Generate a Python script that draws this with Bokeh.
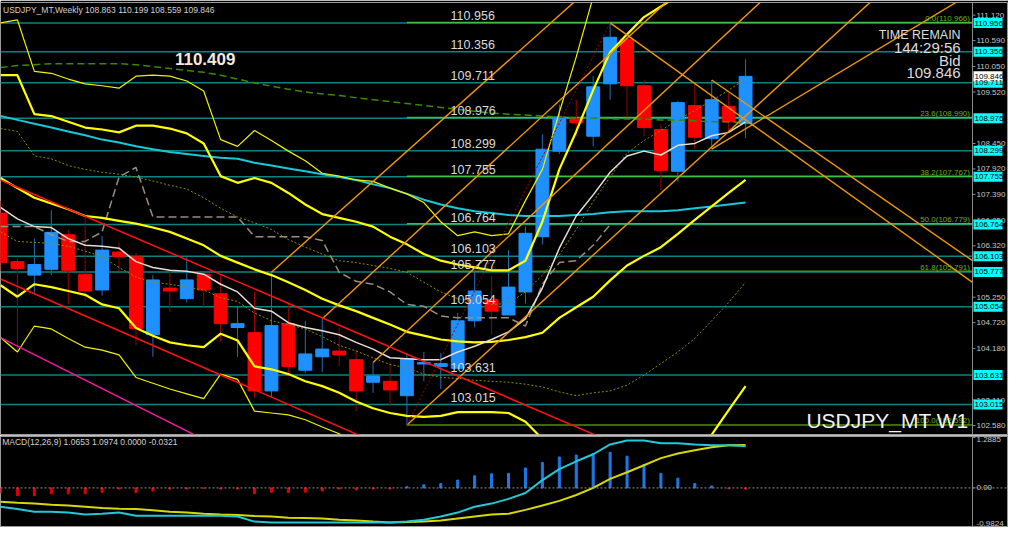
from bokeh.plotting import figure
from bokeh.layouts import column
from bokeh.models import ColumnDataSource, Span, Range1d
from bokeh.core.properties import value
from bokeh.embed import file_html
from bokeh.resources import INLINE

# ---------------- data ----------------
bars = list(range(45))
opens = [107.00, 105.99, 105.71, 105.83, 106.55, 105.73, 105.40, 106.19, 106.09, 104.47,
         105.44, 105.22, 105.73, 105.32, 104.62, 104.51, 103.30, 104.70, 103.73, 104.01,
         104.13, 103.95, 103.48, 103.50, 103.20, 103.86, 103.81, 103.77, 104.76, 105.20,
         104.88, 105.36, 106.51, 108.29, 108.96, 108.60, 109.69, 110.62, 109.65, 108.74,
         107.87, 109.24, 108.55, 109.22, 108.863]
highs = [107.25, 106.05, 106.47, 107.06, 106.66, 106.94, 106.53, 106.39, 106.17, 105.71,
         105.83, 106.11, 105.77, 105.73, 105.06, 105.36, 105.77, 105.12, 104.76, 104.80,
         104.62, 104.15, 103.89, 103.89, 104.09, 104.11, 104.09, 104.92, 105.79, 105.69,
         106.23, 106.72, 108.64, 109.26, 109.36, 109.85, 110.96, 110.68, 109.77, 108.84,
         109.34, 109.69, 109.77, 109.50, 110.199]
lows = [105.80, 104.11, 105.34, 105.71, 105.10, 105.18, 105.28, 105.79, 104.25, 104.01,
        104.94, 105.14, 105.02, 104.33, 104.01, 103.16, 103.18, 103.67, 103.67, 103.69,
        103.81, 102.88, 103.26, 102.98, 102.59, 103.50, 103.34, 103.75, 104.62, 104.47,
        104.88, 105.12, 106.35, 108.23, 108.60, 108.39, 109.36, 109.00, 108.60, 107.48,
        107.65, 108.33, 108.33, 108.70, 108.559]
closes = [105.97, 105.85, 105.93, 106.60, 105.81, 105.38, 106.23, 106.09, 104.60, 105.61,
          105.38, 105.61, 105.40, 104.70, 104.70, 103.30, 104.66, 103.81, 104.07, 104.17,
          104.05, 103.30, 103.61, 103.32, 103.97, 103.89, 103.87, 104.76, 105.38, 104.96,
          105.46, 106.58, 108.33, 109.00, 108.88, 109.63, 110.66, 109.65, 108.78, 107.89,
          109.30, 108.58, 109.36, 108.90, 109.846]

bb_up3 = [110.96, 111.02, 109.95, 109.91, 109.79, 109.69, 109.65, 109.60, 109.85, 109.87,
          109.85, 109.75, 109.54, 108.53, 108.39, 108.72, 108.51, 108.29, 108.09, 107.83,
          107.77, 107.69, 107.66, 107.52, 107.40, 107.22, 106.82, 106.53, 106.61, 106.53,
          106.57, 107.26, 107.91, 109.10, 110.25, 111.50, 112.73, 113.13, 113.57, 113.80,
          113.99, 114.13, 114.27, 114.20, 114.13]
bb_up2 = [109.87, 109.87, 109.06, 109.02, 108.90, 108.78, 108.74, 108.68, 108.82, 108.82,
          108.76, 108.66, 108.45, 107.77, 107.63, 107.73, 107.63, 107.42, 107.18, 106.98,
          106.90, 106.82, 106.72, 106.51, 106.35, 106.15, 106.01, 105.93, 105.87, 105.81,
          105.81, 106.01, 106.82, 107.91, 108.70, 109.56, 110.35, 110.72, 111.08, 111.30,
          111.52, 111.71, 111.89, 111.94, 111.98]
bb_mid = [107.73, 107.52, 107.32, 107.20, 107.08, 106.94, 106.90, 106.84, 106.78, 106.70,
          106.61, 106.47, 106.33, 106.11, 105.97, 105.83, 105.71, 105.56, 105.40, 105.22,
          105.08, 104.96, 104.82, 104.68, 104.53, 104.45, 104.37, 104.33, 104.31, 104.32,
          104.36, 104.42, 104.51, 104.82, 105.04, 105.26, 105.60, 105.91, 106.11, 106.29,
          106.57, 106.86, 107.14, 107.42, 107.69]
bb_lo2 = [105.50, 105.26, 105.52, 105.46, 105.38, 105.30, 105.10, 105.02, 104.61, 104.45,
          104.31, 104.25, 104.21, 104.49, 104.35, 103.81, 103.75, 103.65, 103.50, 103.40,
          103.26, 103.08, 102.94, 102.84, 102.78, 102.76, 102.78, 102.86, 102.86, 102.86,
          102.84, 102.66, 102.30, 101.97, 101.58, 101.00, 100.85, 101.10, 101.14, 101.28,
          101.62, 102.01, 102.39, 102.90, 103.40]
bb_lo3 = [104.41, 104.11, 104.65, 104.59, 104.39, 104.21, 104.15, 104.05, 103.58, 103.46,
          103.34, 103.24, 103.14, 103.65, 103.54, 102.88, 102.84, 102.80, 102.70, 102.55,
          102.41, 102.23, 101.98, 101.84, 101.74, 101.76, 102.04, 102.25, 102.13, 102.17,
          102.21, 101.72, 101.49, 100.49, 99.80, 98.86, 98.48, 98.70, 98.66, 98.78,
          99.15, 99.59, 100.02, 100.64, 101.25]
ma_fast = [107.12, 106.88, 106.72, 106.70, 106.47, 106.33, 106.31, 106.27, 105.99, 105.87,
           105.81, 105.79, 105.73, 105.52, 105.36, 105.02, 104.96, 104.72, 104.62, 104.55,
           104.47, 104.31, 104.17, 103.99, 103.97, 103.95, 103.95, 104.11, 104.23, 104.37,
           104.53, 104.80, 105.44, 106.27, 106.94, 107.38, 107.85, 108.19, 108.29, 108.21,
           108.41, 108.45, 108.61, 108.68, 108.90]
ma_slow = [109.02, 108.94, 108.86, 108.78, 108.70, 108.62, 108.53, 108.47, 108.39, 108.33,
           108.27, 108.23, 108.19, 108.15, 108.13, 108.05, 107.99, 107.93, 107.87, 107.81,
           107.75, 107.69, 107.60, 107.52, 107.40, 107.28, 107.18, 107.10, 107.04, 107.00,
           106.96, 106.94, 106.94, 106.94, 106.96, 106.98, 107.02, 107.04, 107.04, 107.04,
           107.06, 107.10, 107.14, 107.18, 107.22]
ma_long = [110.03, 110.07, 110.09, 110.11, 110.11, 110.11, 110.11, 110.11, 110.09, 110.05,
           110.01, 109.97, 109.93, 109.87, 109.79, 109.71, 109.64, 109.58, 109.52, 109.48,
           109.45, 109.40, 109.36, 109.32, 109.28, 109.24, 109.20, 109.16, 109.12, 109.08,
           109.06, 109.04, 109.02, 109.00, 108.98, 108.98, 108.96, 108.96, 108.96, 108.94,
           108.94, 108.92, 108.90, 108.90, 108.88]
dot_upper = [108.76, 108.70, 108.19, 108.13, 107.99, 107.91, 107.85, 107.81, 107.75, 107.67,
             107.58, 107.50, 107.32, 107.10, 106.92, 106.80, 106.66, 106.45, 106.29, 106.15,
             106.01, 105.97, 105.91, 105.85, 105.77, 105.56, 105.36, 105.22, 105.16, 105.10,
             105.12, 105.36, 105.71, 106.13, 106.66, 107.24, 107.75, 108.25, 108.51, 108.72,
             108.94, 109.14, 109.34, 109.56, 109.79]
dot_lower = [106.61, 106.41, 106.39, 106.37, 106.31, 106.21, 106.09, 105.87, 105.67, 105.56,
             105.52, 105.46, 105.40, 105.24, 105.16, 104.92, 104.76, 104.68, 104.59, 104.43,
             104.25, 104.13, 103.99, 103.85, 103.78, 103.65, 103.58, 103.56, 103.52, 103.50,
             103.48, 103.44, 103.38, 103.28, 103.20, 103.26, 103.30, 103.42, 103.63, 103.87,
             104.11, 104.39, 104.76, 105.14, 105.56]
lag_line = [106.72, 106.72, 106.72, 106.55, 106.41, 106.41, 106.61, 107.75, 107.95, 106.92,
            106.92, 106.92, 106.92, 106.92, 106.92, 106.51, 106.51, 106.51, 106.51, 106.43,
            105.77, 105.58, 105.52, 105.36, 105.10, 105.06, 104.86, 104.82, 104.82, 104.82,
            104.82, 104.65, 105.52, 105.97, 106.01, 106.33, 106.76]

# horizontal levels (with labels)
levels = [110.956, 110.356, 109.711, 108.976, 108.299, 107.755, 106.764, 106.103,
          105.777, 105.054, 103.631, 103.015]
fib_pct = ["0.0", "23.6", "38.2", "50.0", "61.8", "100.0"]
fib_price = [110.966, 108.990, 107.767, 106.779, 105.791, 102.592]
fib_start_bar = 24
bid_price = 109.846
price_ticks = [111.120, 110.590, 110.050, 109.520, 108.450, 107.920, 107.390, 106.850,
               106.320, 105.250, 104.720, 104.180, 103.110, 102.580]

# trend lines: (bar0, price0) -> (bar1, price1)
orange_b0 = [16, 19, 22, 24, 42, 36, 42]
orange_p0 = [105.77, 104.80, 103.89, 102.59, 108.33, 110.96, 109.77]
orange_b1 = [33.9, 39.35, 44.9, 51.4, 56.5, 57.4, 57.4]
orange_p1 = [111.40, 111.40, 111.40, 111.40, 111.40, 105.56, 106.01]
red_b0 = [0, 0]
red_p0 = [107.69, 105.63]
red_b1 = [36, 22]
red_p1 = [102.25, 102.25]
pink_b = [0, 12]
pink_p = [104.41, 102.29]
fib_anchor_b = [24, 36]
fib_anchor_p = [102.592, 110.966]

# MACD
macd_line = [-0.48, -0.54, -0.61, -0.61, -0.63, -0.68, -0.66, -0.63, -0.71, -0.71,
             -0.71, -0.71, -0.71, -0.71, -0.73, -0.86, -0.88, -0.88, -0.88, -0.88,
             -0.88, -0.88, -0.88, -0.88, -0.86, -0.81, -0.73, -0.63, -0.48, -0.40,
             -0.28, -0.13, 0.20, 0.48, 0.68, 0.86, 1.11, 1.21, 1.21, 1.14,
             1.14, 1.11, 1.09, 1.09, 1.0653]
macd_signal = [-0.35, -0.38, -0.40, -0.43, -0.45, -0.48, -0.51, -0.53, -0.54, -0.57,
               -0.61, -0.63, -0.66, -0.68, -0.69, -0.72, -0.73, -0.76, -0.77, -0.78,
               -0.81, -0.83, -0.86, -0.88, -0.87, -0.86, -0.83, -0.78, -0.73, -0.68,
               -0.66, -0.56, -0.45, -0.33, -0.18, 0.00, 0.23, 0.40, 0.58, 0.76,
               0.88, 0.96, 1.04, 1.09, 1.0974]
macd_hist = [-0.12, -0.20, -0.20, -0.15, -0.15, -0.15, -0.11, -0.03, -0.12, -0.08,
             -0.03, -0.03, -0.01, -0.03, -0.03, -0.15, -0.11, -0.12, -0.11, -0.08,
             -0.03, -0.05, -0.03, -0.03, 0.03, 0.08, 0.11, 0.20, 0.31, 0.36,
             0.37, 0.51, 0.65, 0.79, 0.84, 0.88, 0.91, 0.81, 0.60, 0.37,
             0.25, 0.11, 0.05, -0.02, -0.0321]
macd_max, macd_zero, macd_min = 1.2885, 0.0, -0.9824

# ---------------- layout constants ----------------
FONT = "Liberation Sans"
TF = value(FONT)
W = 1008
AXIS_W = 36
FRAME_W = W - AXIS_W
AXIS_X = 57.4                      # last visible bar position at the price-scale edge
PX = FRAME_W / AXIS_X              # pixels per bar
X_END = W / PX
P_LO, P_HI = 102.393, 111.383
PPY = 432 / (P_HI - P_LO)          # pixels per yen in the main pane
AX_COL = "#8a8a8a"
LBL_COL = "#c8c8c8"


def base_fig(height, y_range, top, bottom):
    f = figure(width=W, height=height, x_range=Range1d(0, X_END), y_range=y_range,
               output_backend="svg", toolbar_location=None, y_axis_location=None,
               x_axis_location=None, background_fill_color="black",
               border_fill_color="black", min_border_left=0, min_border_right=0,
               min_border_top=top, min_border_bottom=bottom)
    f.grid.visible = False
    f.outline_line_color = "#9a9a9a"
    f.add_layout(Span(location=AXIS_X, dimension="height", line_color=AX_COL, line_width=1))
    return f


# ---------------- main pane ----------------
p = base_fig(435, Range1d(P_LO, P_HI), 2, 1)

# level lines
p.segment(x0=[0] * len(levels), y0=levels, x1=[AXIS_X] * len(levels), y1=levels,
          line_color="#0b8383", line_width=1.5)
fib_colors = ["#3fbf3f", "#3fbf3f", "#3fbf3f", "#3fbf3f", "#4f8f00", "#4f8f00"]
p.segment(x0=[fib_start_bar] * len(fib_price), y0=fib_price, x1=[AXIS_X] * len(fib_price),
          y1=fib_price, line_color=fib_colors, line_width=1.5)

# candles
inc = [c >= o for o, c in zip(opens, closes)]
src = ColumnDataSource(dict(
    x=bars, high=highs, low=lows,
    top=[max(o, c) for o, c in zip(opens, closes)],
    bottom=[min(o, c) for o, c in zip(opens, closes)],
    bc=["#1e90ff" if u else "#ff0000" for u in inc],
    wc=["#2a6cb0" if u else "#a00000" for u in inc]))
p.segment(x0="x", y0="low", x1="x", y1="high", line_color="wc", line_width=1, source=src)
p.vbar(x="x", width=0.76, top="top", bottom="bottom", fill_color="bc", line_color="bc",
       line_width=1, source=src)

# indicators
p.line(bars, ma_long, line_color="#3a8a00", line_width=1.5, line_dash="7 4")
p.line(bars[:len(lag_line)], lag_line, line_color="#9a8c82", line_width=1.5, line_dash="8 4")
p.line(bars, dot_upper, line_color="#8c8c00", line_width=1, line_dash="2 2")
p.line(bars, dot_lower, line_color="#8c8c00", line_width=1, line_dash="2 2")
p.line(bars, ma_slow, line_color="#19c8d8", line_width=2)
p.line(bars, bb_up3, line_color="#f0f000", line_width=1.2)
p.line(bars, bb_lo3, line_color="#f0f000", line_width=1.2)
p.line(bars, bb_up2, line_color="#ffff00", line_width=2.2)
p.line(bars, bb_lo2, line_color="#ffff00", line_width=2.2)
p.line(bars, bb_mid, line_color="#ffff00", line_width=2.2)
p.line(bars, ma_fast, line_color="#e8ddd2", line_width=1.5)

# drawn objects
p.segment(x0=orange_b0, y0=orange_p0, x1=orange_b1, y1=orange_p1,
          line_color="#f0960c", line_width=1.4)
p.segment(x0=red_b0, y0=red_p0, x1=red_b1, y1=red_p1, line_color="#ff1010", line_width=1.5)
p.line(pink_b, pink_p, line_color="#f0189c", line_width=1.5)
p.line(fib_anchor_b, fib_anchor_p, line_color="#a00000", line_width=1, line_dash="2 2")

# texts on the chart (vertically centred, offsets in pixels converted to yen)
p.text(x=[26.58] * len(levels), y=[lv + 7.3 / PPY for lv in levels],
       text=[f"{lv:.3f}" for lv in levels], text_font=TF, text_font_size="12.5px",
       text_color="#dadada", text_baseline="middle")
p.text(x=[57.25] * len(fib_price), y=[fp + 4 / PPY for fp in fib_price],
       text=[f"{a}({b:.3f})" for a, b in zip(fib_pct, fib_price)], text_font=TF,
       text_font_size="8px", text_color="#6cae1e", text_align="right",
       text_baseline="middle")
p.text(x=[0.15], y=[P_HI - 2 / PPY], text=["USDJPY_MT,Weekly  108.863 110.199 108.559 109.846"],
       text_font=TF, text_font_size="8.5px", text_color="#d0d0d0", text_baseline="top")
p.text(x=[10.3], y=[P_HI - 56 / PPY], text=["110.409"], text_font=TF, text_font_size="17px",
       text_font_style="bold", text_color="#f2e8dc", text_baseline="middle")
p.text(x=[56.7], y=[P_HI - 32 / PPY], text=["TIME REMAIN"], text_font=TF,
       text_font_size="12.5px", text_color="#dcdcdc", text_align="right",
       text_baseline="middle")
p.text(x=[56.7] * 3, y=[P_HI - 44.6 / PPY, P_HI - 58.2 / PPY, P_HI - 70.8 / PPY],
       text=["144:29:56", "Bid", "109.846"], text_font=TF, text_font_size="15px",
       text_color="#dcdcdc", text_align="right", text_baseline="middle")
p.text(x=[57.17], y=[P_LO + 14 / PPY], text=["USDJPY_MT W1"], text_font=TF,
       text_font_size="21px", text_color="#f2f2f2", text_align="right",
       text_baseline="middle")

# price scale of the main pane
p.segment(x0=[AXIS_X] * len(price_ticks), y0=price_ticks,
          x1=[AXIS_X + 3 / PX] * len(price_ticks), y1=price_ticks, line_color=AX_COL)
p.text(x=[AXIS_X] * len(price_ticks), y=price_ticks, x_offset=4,
       text=[f"{t:.3f}" for t in price_ticks], text_font=TF, text_font_size="8px",
       text_color=LBL_COL, text_baseline="middle")
box_cx = AXIS_X + 15.5 / PX
p.rect(x=[box_cx] * len(levels), y=levels, width=29 / PX, height=10, height_units="screen",
       fill_color="#00ffff", line_color=None)
p.rect(x=[box_cx], y=[bid_price], width=29 / PX, height=10, height_units="screen",
       fill_color="#ffffff", line_color=None)
p.text(x=[AXIS_X] * (len(levels) + 1), y=levels + [bid_price], x_offset=2,
       text=[f"{lv:.3f}" for lv in levels + [bid_price]], text_font=TF,
       text_font_size="8px", text_color="black", text_baseline="middle")

# ---------------- MACD pane ----------------
q = base_fig(92, Range1d(-0.985, 1.313), 1, 1)
q.add_layout(Span(location=macd_zero, dimension="width", line_color="#909090", line_width=1,
                  line_dash="2 2"))
q.vbar(x=bars, top=macd_hist, bottom=0, width=0.12,
       color=["#1e78e6" if h >= 0 else "#e00000" for h in macd_hist])
q.line(bars, macd_signal, line_color="#d8d800", line_width=2)
q.line(bars, macd_line, line_color="#20c8d8", line_width=2)
q.text(x=[0.1], y=[1.30], text=["MACD(12,26,9) 1.0653 1.0974 0.0000 -0.0321"],
       text_font=TF, text_font_size="8.5px", text_color="#d0d0d0", text_baseline="top")
macd_ticks = [macd_max, macd_zero, macd_min]
q.segment(x0=[AXIS_X] * 3, y0=macd_ticks, x1=[AXIS_X + 3 / PX] * 3, y1=macd_ticks,
          line_color=AX_COL)
q.text(x=[AXIS_X], y=[macd_max], x_offset=4, text=["1.2885"], text_font=TF,
       text_font_size="8px", text_color=LBL_COL, text_baseline="top")
q.text(x=[AXIS_X], y=[macd_zero], x_offset=4, text=["0.00"], text_font=TF,
       text_font_size="8px", text_color=LBL_COL, text_baseline="middle")
q.text(x=[AXIS_X], y=[macd_min], x_offset=4, text=["-0.9824"], text_font=TF,
       text_font_size="8px", text_color=LBL_COL, text_baseline="bottom")

layout = column(p, q, spacing=0)
open("out.html", "w").write(file_html(layout, INLINE))
